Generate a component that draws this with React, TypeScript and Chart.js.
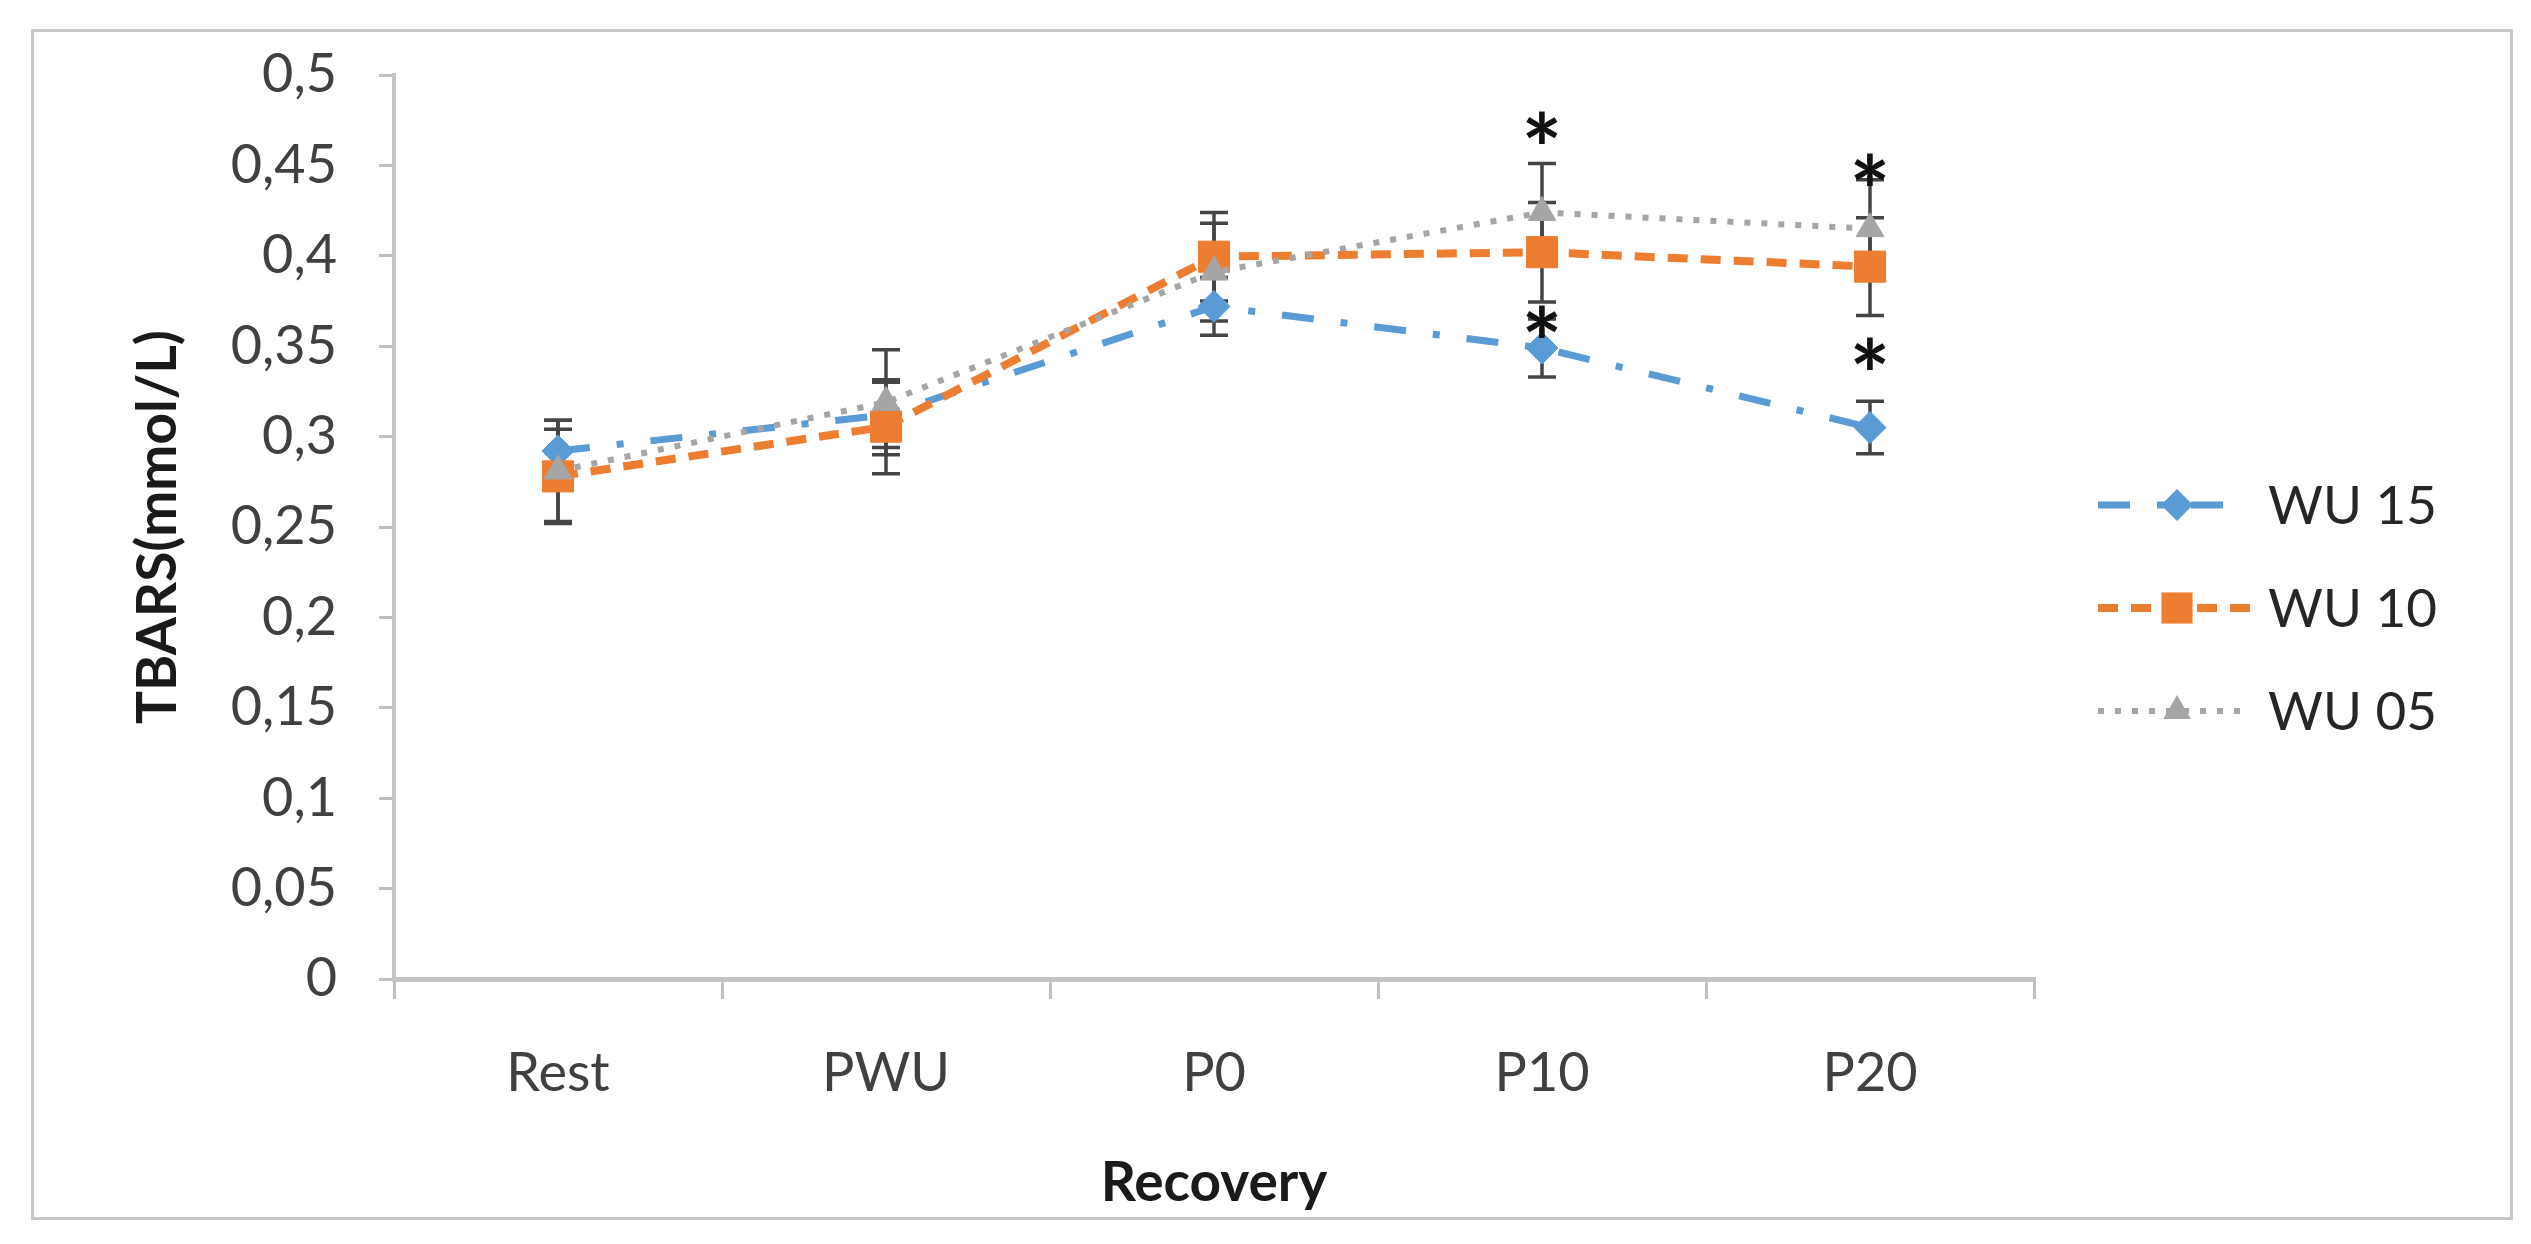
import React, { useEffect, useRef } from 'react';
import { Chart, registerables } from 'chart.js';

Chart.register(...registerables);

const categories = ['Rest', 'PWU', 'P0', 'P10', 'P20'];
const seriesNames = ['WU 15', 'WU 10', 'WU 05'];
const wu15 = [0.292, 0.312, 0.372, 0.349, 0.305];
const wu10 = [0.278, 0.3055, 0.3995, 0.402, 0.394];
const wu05 = [0.281, 0.319, 0.391, 0.424, 0.415];
const wu15Err = [0.017, 0.018, 0.016, 0.016, 0.0145];
const wu10Err = [0.026, 0.026, 0.0245, 0.0275, 0.027];
const wu05Err = [0.028, 0.029, 0.027, 0.027, 0.027];
const yTickLabels = ['0', '0,05', '0,1', '0,15', '0,2', '0,25', '0,3', '0,35', '0,4', '0,45', '0,5'];
const asteriskCategories = ['P10', 'P10', 'P20', 'P20'];
const asteriskValues = [0.4707, 0.3635, 0.448, 0.346];

const FONT = 'Lato, "Open Sans", sans-serif';
const COLORS = ['#5B9BD5', '#ED7D31', '#A5A5A5'];
const DASHES = [[32, 27, 7, 27], [20, 13], [6, 11]];
const WIDTHS = [7, 8, 6];
const STYLES = ['rectRot', 'rect', 'triangle'];
const RADII = [16, 22, 16];
const ERRORS = [wu15Err, wu10Err, wu05Err];
const LEGEND_ENDS = [2189, 2219, 2206];

function drawMarker(ctx: CanvasRenderingContext2D, style: string, cx: number, cy: number, r: number) {
  ctx.beginPath();
  if (style === 'rectRot') {
    ctx.moveTo(cx, cy - r);
    ctx.lineTo(cx + r, cy);
    ctx.lineTo(cx, cy + r);
    ctx.lineTo(cx - r, cy);
  } else if (style === 'rect') {
    const h = r * Math.SQRT1_2;
    ctx.rect(cx - h, cy - h, 2 * h, 2 * h);
  } else {
    ctx.moveTo(cx, cy - r);
    ctx.lineTo(cx + r * 0.866, cy + r / 2);
    ctx.lineTo(cx - r * 0.866, cy + r / 2);
  }
  ctx.closePath();
  ctx.fill();
}

const errorBarPlugin = {
  id: 'errorBars',
  beforeDatasetsDraw(chart: any) {
    const { ctx, scales } = chart;
    const x = scales.x;
    const y = scales.y;
    ctx.save();
    ctx.strokeStyle = '#454545';
    ctx.lineWidth = 3.5;
    const cap = 14;
    chart.data.datasets.forEach((ds: any, i: number) => {
      const errs = ERRORS[i];
      ds.data.forEach((v: number, j: number) => {
        const px = x.getPixelForValue(j);
        const top = y.getPixelForValue(v + errs[j]);
        const bot = y.getPixelForValue(v - errs[j]);
        ctx.beginPath();
        ctx.moveTo(px, top);
        ctx.lineTo(px, bot);
        ctx.moveTo(px - cap, top);
        ctx.lineTo(px + cap, top);
        ctx.moveTo(px - cap, bot);
        ctx.lineTo(px + cap, bot);
        ctx.stroke();
      });
    });
    ctx.restore();
  },
};

const asteriskPlugin = {
  id: 'asterisks',
  afterDatasetsDraw(chart: any) {
    const { ctx, scales } = chart;
    ctx.save();
    ctx.font = `bold 96px ${FONT}`;
    ctx.fillStyle = '#111';
    ctx.textAlign = 'center';
    ctx.textBaseline = 'alphabetic';
    const m = ctx.measureText('*');
    const mid = (m.actualBoundingBoxAscent - m.actualBoundingBoxDescent) / 2;
    asteriskCategories.forEach((c, k) => {
      const px = scales.x.getPixelForValue(categories.indexOf(c));
      const py = scales.y.getPixelForValue(asteriskValues[k]);
      ctx.fillText('*', px, py + mid);
    });
    ctx.restore();
  },
};

const legendPlugin = {
  id: 'customLegend',
  afterDraw(chart: any) {
    const { ctx } = chart;
    ctx.save();
    const x0 = 2064;
    const mx = 2143;
    const tx = 2234;
    const rows = [473, 576, 679];
    seriesNames.forEach((name, i) => {
      const yy = rows[i];
      ctx.strokeStyle = COLORS[i];
      ctx.lineWidth = WIDTHS[i];
      ctx.setLineDash(DASHES[i]);
      ctx.beginPath();
      ctx.moveTo(x0, yy);
      ctx.lineTo(LEGEND_ENDS[i], yy);
      ctx.stroke();
      ctx.setLineDash([]);
      ctx.fillStyle = COLORS[i];
      drawMarker(ctx, STYLES[i], mx, yy, RADII[i]);
      ctx.fillStyle = '#262626';
      ctx.font = `53px ${FONT}`;
      ctx.textAlign = 'left';
      ctx.textBaseline = 'middle';
      ctx.fillText(name, tx, yy + 2);
    });
    ctx.restore();
  },
};

export default function App() {
  const ref = useRef<HTMLCanvasElement | null>(null);
  useEffect(() => {
    if (!ref.current) return;
    const values = [wu15, wu10, wu05];
    const chart = new Chart(ref.current, {
      type: 'line',
      data: {
        labels: categories,
        datasets: seriesNames.map((name, i) => ({
          label: name,
          data: values[i],
          borderColor: COLORS[i],
          backgroundColor: COLORS[i],
          borderWidth: WIDTHS[i],
          borderDash: DASHES[i],
          borderCapStyle: 'butt' as const,
          pointStyle: STYLES[i] as any,
          pointRadius: RADII[i],
          pointHoverRadius: RADII[i],
          pointBackgroundColor: COLORS[i],
          pointBorderColor: COLORS[i],
          pointBorderWidth: 1,
          tension: 0,
          fill: false,
          order: 2 - i,
        })),
      },
      options: {
        animation: false,
        responsive: true,
        maintainAspectRatio: false,
        layout: { padding: { left: 0, right: 476, top: 43, bottom: 0 } },
        plugins: {
          legend: { display: false },
          tooltip: { enabled: false },
        },
        scales: {
          x: {
            type: 'category',
            offset: true,
            afterFit: (s: any) => {
              s.height = 238;
              s.paddingLeft = 0;
              s.paddingRight = 0;
            },
            grid: {
              display: true,
              drawOnChartArea: false,
              offset: true,
              drawTicks: true,
              tickLength: 20,
              color: '#c0c0c0',
              lineWidth: 3,
            },
            border: { display: true, color: '#c4c4c4', width: 5 },
            ticks: {
              color: '#404040',
              font: { family: FONT, size: 54 },
              padding: 42,
            },
            title: {
              display: true,
              text: 'Recovery',
              color: '#1a1a1a',
              font: { family: FONT, size: 55, weight: 'bold' },
              padding: { top: 0, bottom: 1 },
            },
          },
          y: {
            min: 0,
            max: 0.5,
            afterFit: (s: any) => {
              s.width = 360;
              s.paddingTop = 0;
              s.paddingBottom = 0;
            },
            grid: {
              display: true,
              drawOnChartArea: false,
              drawTicks: true,
              tickLength: 15,
              color: '#bfbfbf',
              lineWidth: 3,
            },
            border: { display: true, color: '#c4c4c4', width: 4 },
            ticks: {
              stepSize: 0.05,
              color: '#404040',
              font: { family: FONT, size: 54 },
              padding: 42,
              callback: (_v: any, index: number) => yTickLabels[index],
            },
            title: {
              display: true,
              text: 'TBARS(mmol/L)',
              color: '#1a1a1a',
              font: { family: FONT, size: 55, weight: 'bold' },
              padding: { top: 91, bottom: 0 },
            },
          },
        },
      },
      plugins: [errorBarPlugin, asteriskPlugin, legendPlugin],
    });
    return () => chart.destroy();
  }, []);

  return (
    <div
      style={{
        position: 'absolute',
        left: 31,
        top: 29,
        width: 2482,
        height: 1191,
        boxSizing: 'border-box',
        border: '3px solid #c8c8c8',
        background: '#fff',
      }}
    >
      <div style={{ position: 'relative', width: 2476, height: 1185 }}>
        <canvas ref={ref} />
      </div>
    </div>
  );
}
